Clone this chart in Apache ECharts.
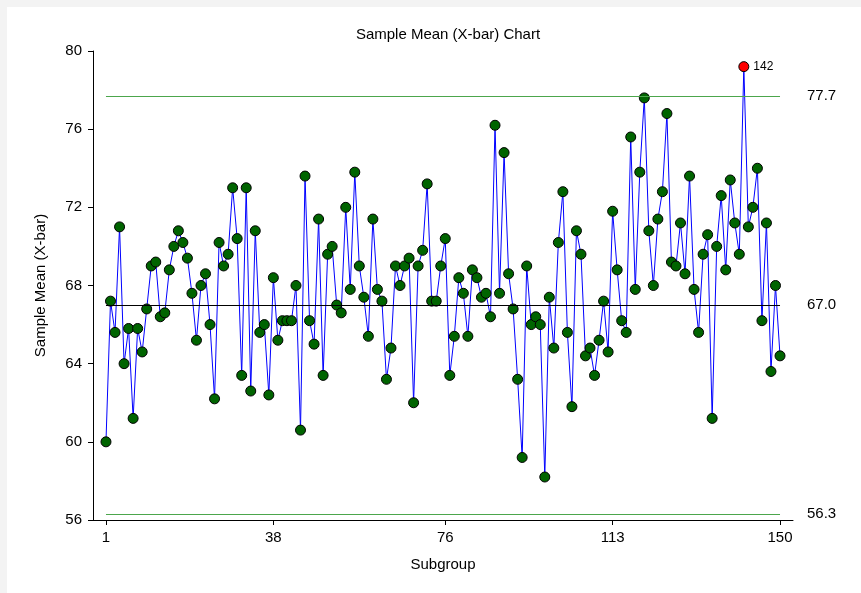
<!DOCTYPE html>
<html>
<head>
<meta charset="utf-8">
<script src="https://cdn.jsdelivr.net/npm/echarts@6/dist/echarts.min.js"></script>
<style>
  body { margin: 0; background: #f3f3f3; }
  #chart { position: absolute; left: 7px; top: 7px; width: 854px; height: 586px; background: #fff; }
</style>
</head>
<body>
<div id="chart"></div>
<script>
// sample means per subgroup
const xbar = [
  60.0, 67.2, 65.6, 71.0, 64.0, 65.8, 61.2, 65.8, 64.6, 66.8,
  69.0, 69.2, 66.4, 66.6, 68.8, 70.0, 70.8, 70.2, 69.4, 67.6,
  65.2, 68.0, 68.6, 66.0, 62.2, 70.2, 69.0, 69.6, 73.0, 70.4,
  63.4, 73.0, 62.6, 70.8, 65.6, 66.0, 62.4, 68.4, 65.2, 66.2,
  66.2, 66.2, 68.0, 60.6, 73.6, 66.2, 65.0, 71.4, 63.4, 69.6,
  70.0, 67.0, 66.6, 72.0, 67.8, 73.8, 69.0, 67.4, 65.4, 71.4,
  67.8, 67.2, 63.2, 64.8, 69.0, 68.0, 69.0, 69.4, 62.0, 69.0,
  69.8, 73.2, 67.2, 67.2, 69.0, 70.4, 63.4, 65.4, 68.4, 67.6,
  65.4, 68.8, 68.4, 67.4, 67.6, 66.4, 76.2, 67.6, 74.8, 68.6,
  66.8, 63.2, 59.2, 69.0, 66.0, 66.4, 66.0, 58.2, 67.4, 64.8,
  70.2, 72.8, 65.6, 61.8, 70.8, 69.6, 64.4, 64.8, 63.4, 65.2,
  67.2, 64.6, 71.8, 68.8, 66.2, 65.6, 75.6, 67.8, 73.8, 77.6,
  70.8, 68.0, 71.4, 72.8, 76.8, 69.2, 69.0, 71.2, 68.6, 73.6,
  67.8, 65.6, 69.6, 70.6, 61.2, 70.0, 72.6, 68.8, 73.4, 71.2,
  69.6, 79.2, 71.0, 72.0, 74.0, 66.2, 71.2, 63.6, 68.0, 64.4
];
const subgroups = xbar.map((v, i) => i + 1);
const xTicks = [1, 38, 76, 113, 150];
const yTicks = [56, 60, 64, 68, 72, 76, 80];
// control limits: UCL, center, LCL
const ucl = 77.7;
const center = 67.0;
const lcl = 56.3;
const outOfControl = [142];

const chart = echarts.init(document.getElementById('chart'));
const font = "'Liberation Sans', Arial, sans-serif";

const points = subgroups.map((s, i) => {
  const p = { value: [s, xbar[i]] };
  if (outOfControl.includes(s)) {
    p.itemStyle = { color: '#ff0000' };
    p.label = { show: true, position: 'right', distance: 4, formatter: String(s), fontSize: 12, color: '#000', fontFamily: font };
  }
  return p;
});

const limitLine = (v, color) => ({
  lineStyle: { color: color, width: 1, type: 'solid' },
  label: { formatter: v.toFixed(1) },
  data: [{ coord: [subgroups[0], v] }, { coord: [subgroups[subgroups.length - 1], v] }]
});

const lines = [limitLine(ucl, '#4ca64c'), limitLine(center, '#000'), limitLine(lcl, '#4ca64c')];

chart.setOption({
  animation: false,
  textStyle: { fontFamily: font },
  title: {
    text: 'Sample Mean (X-bar) Chart',
    left: 436, top: 15, textAlign: 'center',
    textStyle: { fontSize: 15, fontWeight: 'normal', color: '#000', fontFamily: font }
  },
  grid: { left: 86, top: 44, width: 700, height: 469 },
  xAxis: {
    type: 'value', min: -1.87, max: 152.87,
    name: 'Subgroup', nameLocation: 'middle', nameGap: 37,
    nameTextStyle: { fontSize: 15, color: '#000', fontFamily: font },
    axisLine: { onZero: false, lineStyle: { color: '#000' } },
    axisTick: { customValues: xTicks, length: 5, lineStyle: { color: '#000' } },
    axisLabel: { customValues: xTicks, fontSize: 15, color: '#000', margin: 10, fontFamily: font },
    splitLine: { show: false }
  },
  yAxis: {
    type: 'value', min: yTicks[0], max: yTicks[yTicks.length - 1], interval: 4,
    name: 'Sample Mean (X-bar)', nameLocation: 'middle', nameGap: 45,
    nameTextStyle: { fontSize: 15, color: '#000', fontFamily: font },
    axisLine: { show: true, onZero: false, lineStyle: { color: '#000' } },
    axisTick: { show: true, length: 5, lineStyle: { color: '#000' } },
    axisLabel: { fontSize: 15, color: '#000', margin: 11, fontFamily: font },
    splitLine: { show: false }
  },
  series: lines.map(l => ({
    type: 'line', data: [], silent: true, z: 1,
    markLine: {
      silent: true, symbol: 'none', animation: false,
      lineStyle: l.lineStyle,
      label: { show: true, position: 'end', distance: 27, formatter: l.label.formatter, fontSize: 15, color: '#000', fontFamily: font },
      data: [l.data]
    }
  })).concat([{
    type: 'line', z: 3,
    data: points,
    symbol: 'circle', symbolSize: 10,
    lineStyle: { color: '#0000ff', width: 1 },
    itemStyle: { color: '#006400', borderColor: '#000', borderWidth: 1 }
  }])
});
</script>
</body>
</html>
